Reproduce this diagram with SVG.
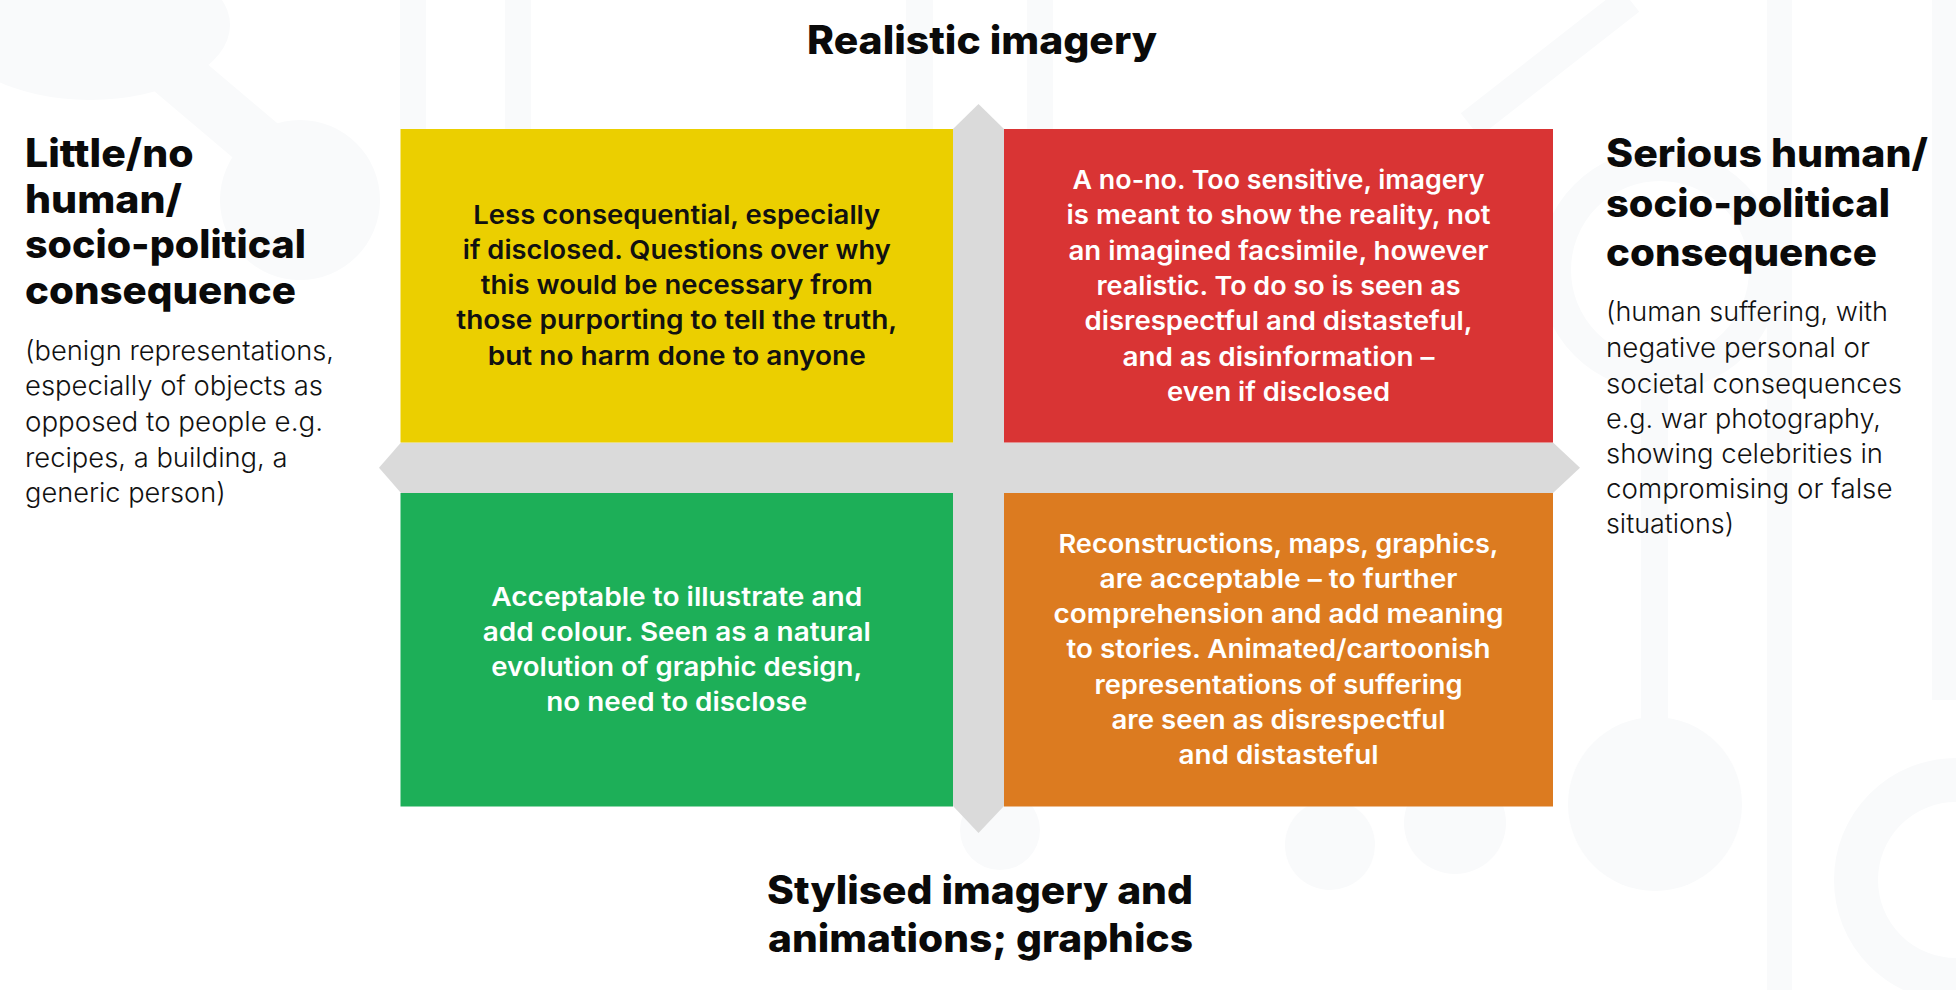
<svg xmlns="http://www.w3.org/2000/svg" width="1956" height="990" viewBox="0 0 1956 990">
<defs>
<style>
.deco{fill:#f9fafb}
.deco-s{fill:none;stroke:#f9fafb}
.bar{fill:#dadada}
.box-y{fill:#ebcf00}
.box-r{fill:#d93434}
.box-g{fill:#1daf58}
.box-o{fill:#dc7b20}
.bt{font-family:Inter,"Open Sans","Liberation Sans",sans-serif;font-size:26px;font-weight:600;text-anchor:middle}
.dark{fill:#111111}
.light{fill:#ffffff}
.head{font-family:Inter,"Open Sans","Liberation Sans",sans-serif;font-size:39px;font-weight:800;fill:#0a0a0a}
.mid{text-anchor:middle}
.body{font-family:Inter,"Open Sans","Liberation Sans",sans-serif;font-size:27px;font-weight:300;fill:#111111}
</style>
</defs>
<rect width="1956" height="990" fill="#ffffff"/>
<g id="background-decor">
<rect class="deco" x="400" y="0" width="26" height="130"/>
<rect class="deco" x="505" y="0" width="26" height="130"/>
<rect class="deco" x="906" y="0" width="27" height="130"/>
<rect class="deco" x="1027" y="0" width="26" height="130"/>
<ellipse class="deco" cx="90" cy="25" rx="140" ry="75"/>
<line class="deco-s" x1="160" y1="60" x2="290" y2="170" stroke-width="55"/>
<circle class="deco" cx="300" cy="200" r="80"/>
<circle class="deco-s" cx="1660" cy="270" r="105" stroke-width="32"/>
<line class="deco-s" x1="1630" y1="0" x2="1470" y2="125" stroke-width="30"/>
<rect class="deco" x="1932" y="0" width="24" height="700"/>
<rect class="deco" x="1641" y="370" width="27" height="400"/>
<circle class="deco" cx="1655" cy="804" r="87"/>
<rect class="deco" x="1767" y="0" width="25" height="990"/>
<circle class="deco" cx="1455" cy="823" r="51"/>
<circle class="deco-s" cx="1956" cy="880" r="100" stroke-width="44"/>
<circle class="deco" cx="1000" cy="830" r="40"/>
<circle class="deco" cx="1330" cy="845" r="45"/>
</g>
<g id="connectors">
<path class="bar" d="M953,129 L978.5,104 L1004,129 L1004,806 L978.5,833 L953,806 Z"/>
<path class="bar" d="M401,442.5 L1553,442.5 L1580,467.7 L1553,493 L401,493 L379,467.7 Z"/>
</g>
<g id="quadrant-top-left">
<rect class="box-y" x="400.5" y="129" width="552.5" height="313.5"/>
<text class="bt dark" x="676.75" y="223.5" textLength="407" lengthAdjust="spacingAndGlyphs">Less consequential, especially</text>
<text class="bt dark" x="676.75" y="258.8" textLength="428" lengthAdjust="spacingAndGlyphs">if disclosed. Questions over why</text>
<text class="bt dark" x="676.75" y="294.1" textLength="392" lengthAdjust="spacingAndGlyphs">this would be necessary from</text>
<text class="bt dark" x="676.75" y="329.4" textLength="441" lengthAdjust="spacingAndGlyphs">those purporting to tell the truth,</text>
<text class="bt dark" x="676.75" y="364.7" textLength="378" lengthAdjust="spacingAndGlyphs">but no harm done to anyone</text>
</g>
<g id="quadrant-top-right">
<rect class="box-r" x="1004" y="129" width="549" height="313.5"/>
<text class="bt light" x="1278.5" y="189" textLength="412" lengthAdjust="spacingAndGlyphs">A no-no. Too sensitive, imagery</text>
<text class="bt light" x="1278.5" y="224.3" textLength="424" lengthAdjust="spacingAndGlyphs">is meant to show the reality, not</text>
<text class="bt light" x="1278.5" y="259.6" textLength="420" lengthAdjust="spacingAndGlyphs">an imagined facsimile, however</text>
<text class="bt light" x="1278.5" y="294.9" textLength="364" lengthAdjust="spacingAndGlyphs">realistic. To do so is seen as</text>
<text class="bt light" x="1278.5" y="330.2" textLength="388" lengthAdjust="spacingAndGlyphs">disrespectful and distasteful,</text>
<text class="bt light" x="1278.5" y="365.5" textLength="312" lengthAdjust="spacingAndGlyphs">and as disinformation –</text>
<text class="bt light" x="1278.5" y="400.8" textLength="223" lengthAdjust="spacingAndGlyphs">even if disclosed</text>
</g>
<g id="quadrant-bottom-left">
<rect class="box-g" x="400.5" y="493" width="552.5" height="313.5"/>
<text class="bt light" x="676.75" y="605.5" textLength="371" lengthAdjust="spacingAndGlyphs">Acceptable to illustrate and</text>
<text class="bt light" x="676.75" y="640.8" textLength="388" lengthAdjust="spacingAndGlyphs">add colour. Seen as a natural</text>
<text class="bt light" x="676.75" y="676.1" textLength="371" lengthAdjust="spacingAndGlyphs">evolution of graphic design,</text>
<text class="bt light" x="676.75" y="711.4" textLength="261" lengthAdjust="spacingAndGlyphs">no need to disclose</text>
</g>
<g id="quadrant-bottom-right">
<rect class="box-o" x="1004" y="493" width="549" height="313.5"/>
<text class="bt light" x="1278.5" y="552.5" textLength="440" lengthAdjust="spacingAndGlyphs">Reconstructions, maps, graphics,</text>
<text class="bt light" x="1278.5" y="587.8" textLength="358" lengthAdjust="spacingAndGlyphs">are acceptable – to further</text>
<text class="bt light" x="1278.5" y="623.1" textLength="450" lengthAdjust="spacingAndGlyphs">comprehension and add meaning</text>
<text class="bt light" x="1278.5" y="658.4" textLength="424" lengthAdjust="spacingAndGlyphs">to stories. Animated/cartoonish</text>
<text class="bt light" x="1278.5" y="693.7" textLength="368" lengthAdjust="spacingAndGlyphs">representations of suffering</text>
<text class="bt light" x="1278.5" y="729" textLength="334" lengthAdjust="spacingAndGlyphs">are seen as disrespectful</text>
<text class="bt light" x="1278.5" y="764.3" textLength="200" lengthAdjust="spacingAndGlyphs">and distasteful</text>
</g>
<g id="label-top">
<text class="head mid" x="982" y="54" textLength="350" lengthAdjust="spacingAndGlyphs">Realistic imagery</text>
</g>
<g id="label-bottom">
<text class="head mid" x="980" y="904" textLength="426" lengthAdjust="spacingAndGlyphs">Stylised imagery and</text>
<text class="head mid" x="980.5" y="951.7" textLength="425" lengthAdjust="spacingAndGlyphs">animations; graphics</text>
</g>
<g id="label-left">
<text class="head" x="25" y="167" textLength="168.6" lengthAdjust="spacingAndGlyphs">Little/no</text>
<text class="head" x="25" y="212.5" textLength="157" lengthAdjust="spacingAndGlyphs">human/</text>
<text class="head" x="25" y="258" textLength="281" lengthAdjust="spacingAndGlyphs">socio-political</text>
<text class="head" x="25" y="304" textLength="271" lengthAdjust="spacingAndGlyphs">consequence</text>
<text class="body" x="25" y="360" textLength="309" lengthAdjust="spacingAndGlyphs">(benign representations,</text>
<text class="body" x="25" y="395.4" textLength="298" lengthAdjust="spacingAndGlyphs">especially of objects as</text>
<text class="body" x="25" y="431.4" textLength="298" lengthAdjust="spacingAndGlyphs">opposed to people e.g.</text>
<text class="body" x="25" y="466.8" textLength="262.5" lengthAdjust="spacingAndGlyphs">recipes, a building, a</text>
<text class="body" x="25" y="501.8" textLength="200.7" lengthAdjust="spacingAndGlyphs">generic person)</text>
</g>
<g id="label-right">
<text class="head" x="1606" y="167" textLength="322" lengthAdjust="spacingAndGlyphs">Serious human/</text>
<text class="head" x="1606" y="217" textLength="284" lengthAdjust="spacingAndGlyphs">socio-political</text>
<text class="head" x="1606" y="266" textLength="271" lengthAdjust="spacingAndGlyphs">consequence</text>
<text class="body" x="1606" y="321.4" textLength="282" lengthAdjust="spacingAndGlyphs">(human suffering, with</text>
<text class="body" x="1606" y="357" textLength="264" lengthAdjust="spacingAndGlyphs">negative personal or</text>
<text class="body" x="1606" y="392.8" textLength="296" lengthAdjust="spacingAndGlyphs">societal consequences</text>
<text class="body" x="1606" y="427.8" textLength="275" lengthAdjust="spacingAndGlyphs">e.g. war photography,</text>
<text class="body" x="1606" y="463" textLength="277" lengthAdjust="spacingAndGlyphs">showing celebrities in</text>
<text class="body" x="1606" y="498" textLength="286.5" lengthAdjust="spacingAndGlyphs">compromising or false</text>
<text class="body" x="1606" y="532.5" textLength="128" lengthAdjust="spacingAndGlyphs">situations)</text>
</g>
</svg>
